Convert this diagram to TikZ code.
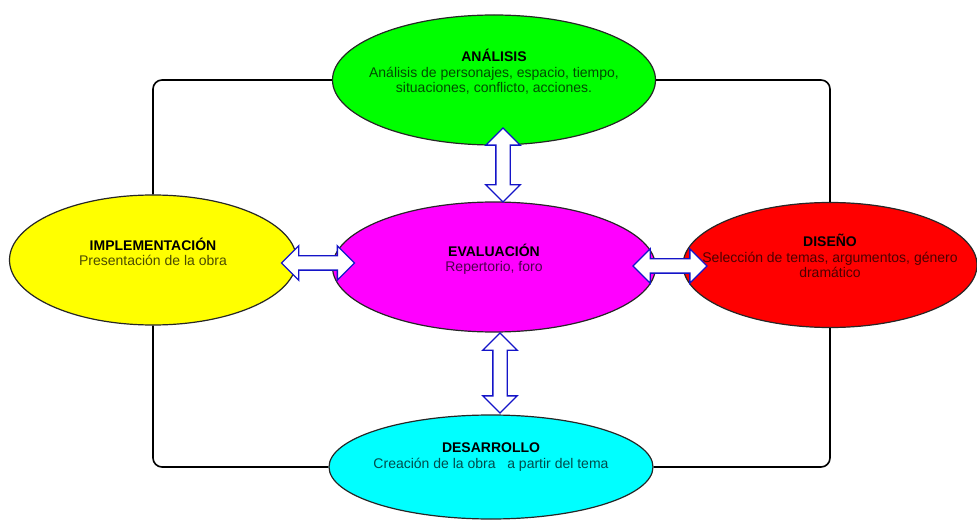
\documentclass[tikz,border=0pt]{standalone}
\usepackage{fontspec}
\setmainfont{Liberation Sans}
\usetikzlibrary{shapes.geometric,shapes.arrows}
\definecolor{verde}{RGB}{0,255,0}
\definecolor{rosa}{RGB}{255,0,255}
\definecolor{amarillo}{RGB}{255,255,0}
\definecolor{rojo}{RGB}{255,0,0}
\definecolor{celeste}{RGB}{0,255,255}
\definecolor{azul}{RGB}{20,20,200}
\begin{document}
\begin{tikzpicture}[x=1pt,y=-1pt,
  fase/.style={ellipse, draw=black!85, line width=1.2pt, inner sep=0pt, fill=#1},
  texto/.style={align=center, inner sep=0pt, font=\fontsize{14}{15.5}\selectfont, text=black!70!#1},
  enlace/.style={line width=1.6pt, rounded corners=9pt},
  flecha/.style={double arrow, draw=azul, fill=white, line width=1.4pt,
    inner xsep=0pt, inner ysep=6.5pt, double arrow head extend=10pt}]
\useasboundingbox (0,0) rectangle (977,521);
% Fases
\node[fase=verde, minimum width=323pt, minimum height=130pt] (ana) at (494,80) {};
\node[fase=rosa, minimum width=323pt, minimum height=130pt] (eva) at (494,267) {};
\node[fase=amarillo, minimum width=287pt, minimum height=130pt] (imp) at (153,260) {};
\node[fase=rojo, minimum width=294pt, minimum height=125pt] (dis) at (830,265) {};
\node[fase=celeste, minimum width=324pt, minimum height=104pt] (des) at (491,467) {};
% Textos
\node[texto=verde] (anatxt) at ([yshift=8pt]ana.center) {{\color{black}\bfseries ANÁLISIS}\\
  Análisis de personajes, espacio, tiempo,\\ situaciones, conflicto, acciones.};
\node[texto=rosa] (evatxt) at ([yshift=8pt]eva.center) {{\color{black}\bfseries EVALUACIÓN}\\ Repertorio, foro};
\node[texto=amarillo] (imptxt) at ([yshift=8pt]imp.center) {{\color{black}\bfseries IMPLEMENTACIÓN}\\ Presentación de la obra};
\node[texto=rojo] (distxt) at ([yshift=9pt]dis.center) {{\color{black}\bfseries DISEÑO}\\
  Selección de temas, argumentos, género\\ dramático};
\node[texto=celeste] (destxt) at ([yshift=10pt]des.center) {{\color{black}\bfseries DESARROLLO}\\
  Creación de la obra\ \ \ a partir del tema};
% Ciclo exterior
\draw[enlace] (imp.north) |- (ana.west);
\draw[enlace] (ana.east) -| (dis.north);
\draw[enlace] (imp.south) |- (des.west);
\draw[enlace] (dis.south) |- (des.east);
% Flechas dobles
\node[flecha, rotate=90, minimum height=74pt] (f1) at (503,165) {};
\node[flecha, rotate=90, minimum height=80pt] (f2) at (500,373) {};
\node[flecha, minimum height=73pt] (f3) at (318,263) {};
\node[flecha, minimum height=74pt] (f4) at (670,266) {};
\end{tikzpicture}
\end{document}
